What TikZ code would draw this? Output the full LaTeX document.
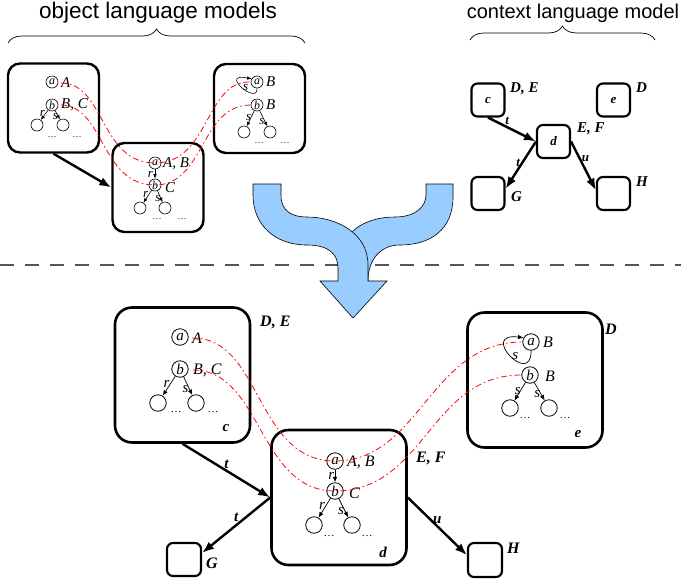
\documentclass[tikz,border=0pt]{standalone}
\usepackage{fontspec}
\setmainfont{Liberation Serif}
\setsansfont{Liberation Sans}
\usetikzlibrary{arrows.meta,decorations.pathreplacing}
\definecolor{flowblue}{RGB}{153,204,255}
\definecolor{dashgray}{RGB}{85,85,85}
\begin{document}
\begin{tikzpicture}[x=1pt,y=-1pt,
  bigbox/.style={draw, line width=2.6pt, rounded corners=17pt, minimum width=135pt, minimum height=135pt, inner sep=0pt},
  midbox/.style={draw, line width=2.4pt, rounded corners=12pt, minimum width=91pt, minimum height=89pt, inner sep=0pt},
  smallbox/.style={draw, line width=2.1pt, rounded corners=6pt, minimum width=33pt, minimum height=33pt, inner sep=0pt, font=\fontsize{13}{13}\selectfont\bfseries\itshape},
  st/.style={circle, draw, line width=0.8pt, minimum size=16.5pt, inner sep=0pt, font=\fontsize{15}{15}\selectfont\itshape},
  sst/.style={circle, draw, line width=0.6pt, minimum size=12pt, inner sep=0pt, font=\fontsize{12}{12}\selectfont\itshape},
  lab/.style={anchor=west, inner sep=0pt, font=\fontsize{16}{16}\selectfont\itshape},
  slab/.style={anchor=west, inner sep=0pt, font=\fontsize{15}{15}\selectfont\itshape},
  elab/.style={inner sep=0.5pt, font=\fontsize{15}{15}\selectfont\itshape},
  selab/.style={inner sep=0.3pt, font=\fontsize{13}{13}\selectfont\itshape},
  belab/.style={inner sep=1pt, font=\fontsize{15}{15}\selectfont\bfseries\itshape},
  sbelab/.style={inner sep=1pt, font=\fontsize{13}{13}\selectfont\bfseries\itshape},
  blab/.style={anchor=west, inner sep=0pt, font=\fontsize{16}{16}\selectfont\bfseries\itshape},
  sblab/.style={anchor=west, inner sep=0pt, font=\fontsize{15}{15}\selectfont\bfseries\itshape},
  bname/.style={inner sep=0pt, font=\fontsize{15}{15}\selectfont\bfseries\itshape},
  dotsl/.style={inner sep=0pt, font=\fontsize{11}{11}\selectfont},
  sdotsl/.style={inner sep=0pt, font=\fontsize{9}{9}\selectfont},
  tarrow/.style={draw, line width=0.7pt, -{Latex[length=5.5pt,width=4.5pt]}},
  starrow/.style={draw, line width=0.6pt, -{Latex[length=4.5pt,width=3.6pt]}},
  bigarrow/.style={draw, line width=2.4pt, -{Latex[length=12pt,width=9pt]}},
  corr/.style={draw=red, line width=0.8pt, dash pattern=on 6pt off 3pt on 1.5pt off 3pt},
  title/.style={font=\fontsize{22.5}{22.5}\selectfont\sffamily, inner sep=0pt},
  bracedec/.style={draw, line width=0.7pt, decorate, decoration={brace, amplitude=14pt}},
  sepline/.style={draw=dashgray, line width=1.4pt, dash pattern=on 14pt off 11pt},
  flow/.style={fill=flowblue, draw=black, line width=0.6pt},
]
\useasboundingbox (0,0) rectangle (681,582);

% titles and braces
\node[title] (objtitle) at (158,13) {object language models};
\node[title, font=\fontsize{20}{20}\selectfont\sffamily] (ctxtitle) at (573,13) {context language model};
\coordinate (b1l) at (8,43);
\coordinate (b1r) at (305,43);
\coordinate (b2l) at (470,40);
\coordinate (b2r) at (655,40);
\draw[bracedec] (b1l) -- (b1r);
\draw[bracedec] (b2l) -- (b2r);

% separator
\coordinate (sepl) at (0,265);
\coordinate (sepr) at (681,265);
\draw[sepline] (sepl) -- (sepr);

% merging arrow
\filldraw[flow] (426,184) -- (453,184) -- (453,197) .. controls (453,230) and (430,245) .. (400,245) .. controls (380,245) and (368,260) .. (368,281) -- (340,281) -- (340,262) .. controls (340,232) and (365,217) .. (395,217) .. controls (415,217) and (426,207) .. (426,195) -- cycle;
\filldraw[flow] (253,184) -- (281,184) -- (281,195) .. controls (281,212) and (293,217) .. (307,217) .. controls (335,217) and (368,232) .. (368,265) -- (368,281) -- (387,281) -- (353,318) -- (320,281) -- (338,281) -- (338,268) .. controls (338,255) and (330,245) .. (307,245) .. controls (275,245) and (253,225) .. (253,195) -- cycle;

% ===== top-left object models =====
\node[midbox] (L1) at (53.5,108) {};
\node[sst] (l1a) at (52,82) {a};
\node[slab] (l1A) at (61,83) {A};
\node[sst] (l1b) at (52,105) {b};
\node[slab] (l1B) at (61,105) {B, C};
\node[sst] (l1c1) at (37,125) {};
\node[sst] (l1c2) at (63,125) {};
\draw[starrow] (l1b) -- (l1c1) node[selab, pos=0.35, left] (l1r) {r};
\draw[starrow] (l1b) -- (l1c2) node[selab, pos=0.7, left] (l1s) {s};
\node[sdotsl] (l1d1) at (52,137) {\dots};
\node[sdotsl] (l1d2) at (77,137) {\dots};

\node[midbox] (L2) at (158,187.5) {};
\node[sst] (l2a) at (155,163) {a};
\node[slab] (l2A) at (163,164) {A, B};
\node[sst] (l2b) at (155,185) {b};
\node[slab] (l2B) at (165,188) {C};
\draw[starrow] (l2a) -- (l2b) node[selab, midway, left=1.5pt] (l2r) {r};
\node[sst] (l2c1) at (140,208) {};
\node[sst] (l2c2) at (165,208) {};
\draw[starrow] (l2b) -- (l2c1) node[selab, pos=0.35, left] (l2r2) {r};
\draw[starrow] (l2b) -- (l2c2) node[selab, pos=0.7, left] (l2s) {s};
\node[sdotsl] (l2d1) at (157,219) {\dots};
\node[sdotsl] (l2d2) at (182,219) {\dots};

\node[midbox] (L3) at (259.5,108.5) {};
\node[sst] (l3a) at (257,82) {a};
\node[slab] (l3A) at (266,82) {B};
\node[sst] (l3b) at (257,105) {b};
\node[slab] (l3B) at (266,105) {B};
\draw[starrow] (l3a.south) .. controls (258,106) and (218,72) .. (l3a.150) node[selab, pos=0.5, right=0.5pt] (l3s0) {s};
\node[sst] (l3c1) at (244,132) {};
\node[sst] (l3c2) at (270,132) {};
\draw[starrow] (l3b) -- (l3c1) node[selab, pos=0.45, left=-1pt] (l3s1) {s};
\draw[starrow] (l3b) -- (l3c2) node[selab, pos=0.7, left] (l3s2) {s};
\node[sdotsl] (l3d1) at (259,143) {\dots};
\node[sdotsl] (l3d2) at (285,143) {\dots};

\draw[bigarrow] (L1.south) -- (L2.west);

% ===== top-right context model =====
\node[smallbox] (tc) at (488,100) {c};
\node[smallbox] (te) at (613.5,100) {e};
\node[smallbox] (td) at (553.5,141.5) {d};
\node[smallbox] (tG) at (488,193.5) {};
\node[smallbox] (tH) at (613.5,193.5) {};
\node[sblab] (tcl) at (510,89) {D, E};
\node[sblab] (tel) at (636,88) {D};
\node[sblab] (tdl) at (577,129) {E, F};
\node[sblab] (tGl) at (511,197) {G};
\node[sblab] (tHl) at (636,182) {H};
\draw[bigarrow] (tc.south) -- (td.west) node[sbelab, pos=0.4, above] (tt1) {t};
\draw[bigarrow] (td.west) -- (tG.15) node[sbelab, pos=0.45, left] (tt2) {t};
\draw[bigarrow] (td.east) -- (tH.170) node[sbelab, pos=0.35, right] (tu) {u};

% ===== bottom combined model =====
\node[bigbox] (C) at (182.5,375) {};
\node[st] (ca) at (180,337) {a};
\node[lab] (cA) at (192,338) {A};
\node[st] (cb) at (180,369) {b};
\node[lab] (cB) at (193,370) {B, C};
\node[st] (cc1) at (158,403) {};
\node[st] (cc2) at (196,403) {};
\draw[tarrow] (cb) -- (cc1) node[elab, pos=0.4, left] (cr) {r};
\draw[tarrow] (cb) -- (cc2) node[elab, pos=0.65, left] (cs) {s};
\node[dotsl] (cd1) at (176,412) {\dots};
\node[dotsl] (cd2) at (213,412) {\dots};
\node[bname] (cn) at (226,428) {c};
\node[blab] (cl) at (260,322) {D, E};

\node[bigbox] (D) at (339,497.5) {};
\node[st] (da) at (335,461) {a};
\node[lab] (dA) at (347,462) {A, B};
\node[st] (db) at (335,491) {b};
\node[lab] (dB) at (349,493) {C};
\draw[tarrow] (da) -- (db) node[elab, midway, left] (dr) {r};
\node[st] (dc1) at (314,525) {};
\node[st] (dc2) at (352,525) {};
\draw[tarrow] (db) -- (dc1) node[elab, pos=0.4, left] (dr2) {r};
\draw[tarrow] (db) -- (dc2) node[elab, pos=0.65, left] (ds) {s};
\node[dotsl] (dd1) at (329,536) {\dots};
\node[dotsl] (dd2) at (367,536) {\dots};
\node[bname] (dn) at (383,552) {d};
\node[blab] (dl) at (416,458) {E, F};

\node[bigbox] (E) at (535,380) {};
\node[st] (ea) at (531,342) {a};
\node[lab] (eA) at (543,342) {B};
\node[st] (eb) at (530,375) {b};
\node[lab] (eB) at (545,376) {B};
\draw[tarrow] (ea.south) .. controls (532,388) and (478,332) .. (ea.150) node[elab, pos=0.5, right=1pt] (es0) {s};
\node[st] (ec1) at (510,408) {};
\node[st] (ec2) at (549,408) {};
\draw[tarrow] (eb) -- (ec1) node[elab, pos=0.45, left=-1pt] (es1) {s};
\draw[tarrow] (eb) -- (ec2) node[elab, pos=0.65, left] (es2) {s};
\node[dotsl] (ed1) at (525,418) {\dots};
\node[dotsl] (ed2) at (565,418) {\dots};
\node[bname] (en) at (578,434) {e};
\node[blab] (el) at (605,329) {D};

\node[smallbox, minimum width=34pt] (G) at (184,559.5) {};
\node[blab] (Gl) at (206,563) {G};
\node[smallbox, minimum width=34pt, minimum height=34pt] (H) at (485,560) {};
\node[blab] (Hl) at (507,548) {H};

\draw[bigarrow] (C.south) -- (D.west) node[belab, midway, above] (bt1) {t};
\draw[bigarrow] (D.west) -- (G.20) node[belab, pos=0.45, above left=-1pt] (bt2) {t};
\draw[bigarrow] (D.east) -- (H.165) node[belab, midway, above] (bu) {u};

% correspondence lines
\draw[corr] (l1A.west) .. controls (105,83) and (100,163) .. (l2a.center) .. controls (210,163) and (205,80) .. (l3a.west);
\draw[corr] (l1B.west) .. controls (105,106) and (100,185) .. (l2b.center) .. controls (205,185) and (200,105) .. (l3b.west);
\draw[corr] (cA.west) .. controls (262,337) and (255,461) .. (da.center) .. controls (420,461) and (430,342) .. (ea.west);
\draw[corr] (cB.west) .. controls (262,370) and (258,491) .. (db.center) .. controls (425,491) and (430,375) .. (eb.west);
\end{tikzpicture}
\end{document}
